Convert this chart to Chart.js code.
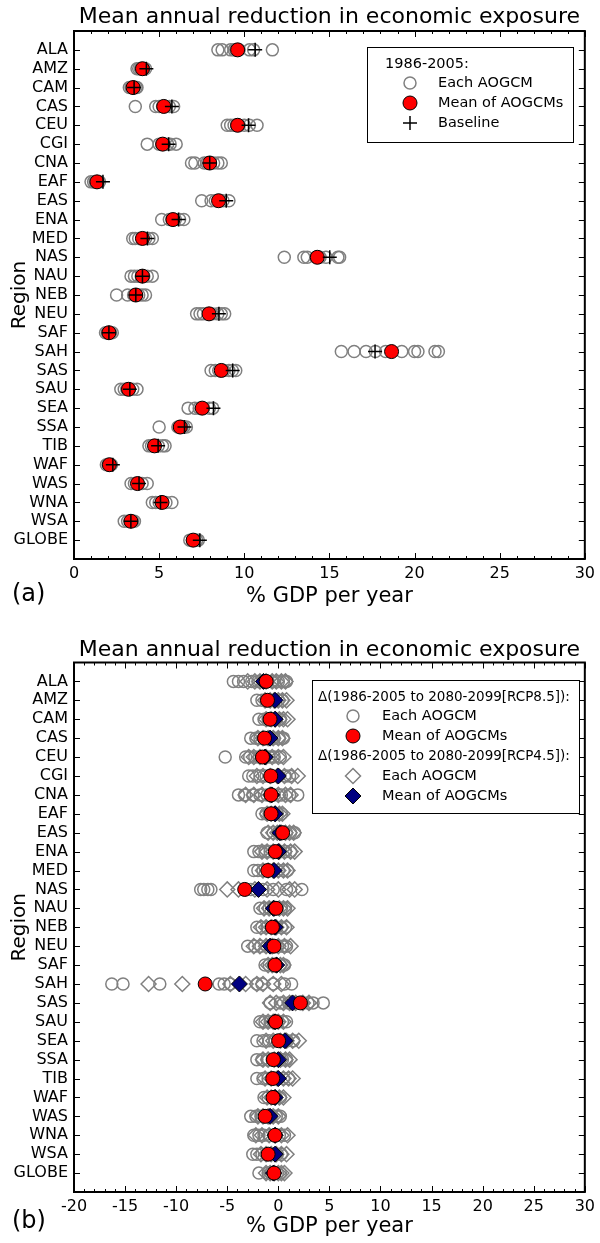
<!DOCTYPE html>
<html>
<head>
<meta charset="utf-8">
<script src="https://cdn.jsdelivr.net/npm/chart.js@4.4.1/dist/chart.umd.min.js"></script>
<style>
  body { margin: 0; background: #fff; }
  canvas { display: block; }
</style>
</head>
<body>
<canvas id="chartA" width="600" height="620"></canvas>
<canvas id="chartB" width="600" height="623"></canvas>
<script>
const regions = ['ALA','AMZ','CAM','CAS','CEU','CGI','CNA','EAF','EAS','ENA','MED','NAS','NAU','NEB','NEU','SAF','SAH','SAS','SAU','SEA','SSA','TIB','WAF','WAS','WNA','WSA','GLOBE'];

// (a) 1986-2005, % GDP per year
const modelsA = [
  [8.45, 8.7, 9.2, 9.4, 9.5, 9.7, 10.3, 10.55, 11.65],
  [3.7, 3.8, 3.9, 4.0, 4.1, 4.2],
  [3.25, 3.35, 3.45, 3.55, 3.65, 3.7],
  [3.6, 4.8, 5.0, 5.2, 5.4, 5.6, 5.85],
  [9.0, 9.2, 9.4, 9.55, 9.7, 10.0, 10.3, 10.75],
  [4.3, 5.0, 5.15, 5.3, 5.5, 5.65, 6.0],
  [6.9, 7.1, 7.65, 7.8, 8.0, 8.2, 8.45, 8.65],
  [1.0, 1.15, 1.25, 1.4, 1.5],
  [7.5, 8.05, 8.3, 8.5, 8.75, 9.1],
  [5.15, 5.6, 5.75, 5.95, 6.2, 6.45],
  [3.45, 3.6, 3.8, 4.0, 4.2, 4.4, 4.6],
  [12.35, 13.5, 13.7, 14.2, 14.45, 14.8, 15.5, 15.6],
  [3.35, 3.55, 3.75, 3.95, 4.1, 4.3, 4.6],
  [2.5, 3.15, 3.5, 3.65, 3.8, 4.0, 4.2],
  [7.2, 7.4, 7.6, 7.9, 8.1, 8.45, 8.65, 8.85],
  [1.85, 1.95, 2.05, 2.15, 2.25],
  [15.7, 16.45, 17.15, 17.7, 18.3, 19.25, 20.0, 20.2, 21.2, 21.4],
  [8.05, 8.3, 8.5, 8.8, 9.1, 9.3, 9.5],
  [2.75, 2.95, 3.1, 3.25, 3.45, 3.7],
  [6.7, 7.1, 7.35, 7.6, 7.95, 8.15],
  [5.0, 6.1, 6.2, 6.35, 6.45, 6.6],
  [4.4, 4.55, 4.7, 4.95, 5.2, 5.35],
  [1.9, 2.0, 2.1, 2.2],
  [3.35, 3.55, 3.75, 4.0, 4.3],
  [4.6, 4.8, 5.0, 5.2, 5.4, 5.75],
  [2.95, 3.15, 3.3, 3.45, 3.55],
  [6.8, 6.95, 7.05, 7.2, 7.3]
];
const meanA = [9.61, 4.02, 3.47, 5.27, 9.61, 5.21, 7.97, 1.35, 8.49, 5.81, 4.02, 14.29, 4.02, 3.63, 7.93, 2.05, 18.65, 8.65, 3.2, 7.53, 6.24, 4.73, 2.08, 3.73, 5.17, 3.34, 7.0];
const baselineA = [10.64, 4.25, 3.53, 5.75, 10.25, 5.56, 7.97, 1.7, 8.94, 6.14, 4.31, 15.02, 4.02, 3.63, 8.51, 2.05, 17.68, 9.32, 3.28, 8.19, 6.49, 4.94, 2.28, 3.82, 5.08, 3.34, 7.39];

// (b) change to 2080-2099
const models85 = [
  [-4.4, -3.9, -3.4, -2.6, -2.0, -1.5, -1.0, -0.5, 0.0, 0.5, 0.8],
  [-2.1, -1.6, -1.2, -0.8, -0.4, 0.0, 0.4],
  [-1.9, -1.4, -1.0, -0.6, -0.2, 0.2],
  [-2.7, -2.2, -1.8, -1.3, -0.9, -0.4, 0.1, 0.5],
  [-5.2, -3.2, -2.8, -2.3, -1.9, -1.4, -0.9, -0.4, 0.2],
  [-2.9, -2.5, -1.8, -1.2, -0.6, 0.0, 0.7, 1.1],
  [-3.9, -3.3, -2.5, -1.8, -1.1, -0.4, 0.3, 1.1, 1.9],
  [-1.6, -1.2, -0.9, -0.5, -0.1, 0.3],
  [-1.1, -0.5, 0.0, 0.4, 0.8, 1.2, 1.6],
  [-2.4, -1.9, -1.3, -0.8, -0.3, 0.2, 0.7, 1.2],
  [-2.4, -2.0, -1.5, -1.0, -0.5, 0.0, 0.5, 0.9],
  [-7.6, -7.3, -6.9, -6.6, -3.2, -2.7, -1.5, -0.5, 0.8, 2.3],
  [-1.8, -1.3, -0.9, -0.5, -0.1, 0.3, 0.7],
  [-2.1, -1.6, -1.1, -0.6, -0.2, 0.3, 0.7],
  [-3.0, -2.3, -1.7, -1.1, -0.6, -0.1, 0.4, 0.8],
  [-1.3, -0.9, -0.5, -0.2, 0.2, 0.6],
  [-16.3, -15.2, -11.6, -5.8, -5.3, -4.7, -2.1, -1.6, -0.5, 0.6, 1.3],
  [-0.8, 0.2, 1.0, 1.8, 2.4, 2.9, 3.4, 4.4],
  [-1.8, -1.3, -0.8, -0.4, 0.0, 0.4, 0.8],
  [-2.1, -1.5, -0.9, -0.3, 0.3, 0.9, 1.5],
  [-2.1, -1.6, -1.1, -0.6, -0.1, 0.4, 0.8],
  [-2.1, -1.5, -1.0, -0.5, 0.0, 0.5, 1.0],
  [-1.4, -1.0, -0.6, -0.2, 0.2],
  [-2.7, -2.2, -1.7, -1.2, -0.7, -0.2, 0.2],
  [-2.4, -1.9, -1.4, -0.9, -0.4, 0.1, 0.6],
  [-2.5, -2.1, -1.6, -1.1, -0.6, -0.1, 0.3],
  [-1.9, -1.0, -0.7, -0.4, -0.1, 0.2]
];
const mean85 = [-1.19, -1.06, -0.81, -1.35, -1.55, -0.74, -0.71, -0.71, 0.42, -0.29, -1.03, -3.29, -0.23, -0.58, -0.42, -0.32, -7.16, 2.16, -0.26, 0.03, -0.48, -0.55, -0.52, -1.29, -0.32, -1.0, -0.42];
const models45 = [
  [-3.0, -2.3, -1.8, -1.2, -0.6, -0.2, 0.3, 0.7],
  [-1.3, -0.8, -0.4, 0.0, 0.4, 0.8],
  [-1.2, -0.7, -0.3, 0.1, 0.5, 0.9],
  [-2.0, -1.5, -1.0, -0.5, 0.0, 0.4],
  [-2.9, -2.4, -1.8, -1.2, -0.6, 0.0, 0.5],
  [-2.1, -1.5, -0.8, -0.1, 0.6, 1.3, 1.9],
  [-3.2, -2.4, -1.6, -0.8, 0.0, 0.7, 1.2],
  [-1.1, -0.7, -0.3, 0.1, 0.4],
  [-1.0, -0.5, -0.1, 0.3, 0.7, 1.1, 1.5],
  [-1.6, -1.1, -0.5, 0.1, 0.6, 1.2, 1.6],
  [-1.5, -1.0, -0.5, 0.0, 0.5, 0.9],
  [-5.0, -3.9, -2.3, -1.1, 0.0, 1.1, 1.6],
  [-1.4, -0.9, -0.4, 0.1, 0.5, 0.9],
  [-1.7, -1.2, -0.7, -0.2, 0.3, 0.8],
  [-2.4, -1.8, -1.2, -0.6, 0.0, 0.6, 1.2],
  [-1.0, -0.6, -0.2, 0.2, 0.5],
  [-12.7, -9.4, -4.7, -3.2, -2.1, -1.5, -0.5, 0.3],
  [-0.8, -0.2, 0.5, 1.1, 1.7, 2.4, 3.0],
  [-1.5, -1.0, -0.5, 0.0, 0.5],
  [-1.2, -0.5, 0.2, 0.8, 1.4, 2.0],
  [-1.5, -1.0, -0.4, 0.2, 0.7, 1.1],
  [-1.3, -0.7, -0.1, 0.5, 1.0, 1.4],
  [-1.1, -0.7, -0.3, 0.1, 0.5],
  [-2.0, -1.5, -1.0, -0.5, 0.0],
  [-2.2, -1.6, -0.9, -0.3, 0.3, 0.9],
  [-1.7, -1.2, -0.7, -0.2, 0.3, 0.8],
  [-1.2, -0.8, -0.4, 0.0, 0.3, 0.6]
];
const mean45 = [-1.45, -0.32, -0.32, -0.81, -1.29, 0.0, -0.65, -0.32, 0.16, 0.0, -0.42, -1.94, -0.48, -0.32, -0.81, -0.16, -3.81, 1.39, -0.32, 0.65, 0.0, 0.0, -0.32, -0.81, -0.32, -0.32, -0.48];

const FONT = 'DejaVu Sans';
const GRAY = '#808080';
const NAVY = '#000080';

const toPoints = lists => lists.flatMap((vals, i) => vals.map(v => ({x: v, y: i})));
const toRow = vals => vals.map((v, i) => ({x: v, y: i}));

const styles = {
  model:  {shape: 'circle',  r: 6,   fill: null,      stroke: GRAY,   lw: 1.5},
  mean:   {shape: 'circle',  r: 7,   fill: '#ff0000', stroke: '#000', lw: 1},
  base:   {shape: 'cross',   r: 7,   fill: null,      stroke: '#000', lw: 1.5},
  model45:{shape: 'diamond', r: 7.5, fill: null,      stroke: GRAY,   lw: 1.5},
  mean45: {shape: 'diamond', r: 8,   fill: NAVY,      stroke: '#000', lw: 1}
};

function dataset(label, points, st, order) {
  return {
    label: label, data: points, order: order,
    pointStyle: st.shape === 'diamond' ? 'rectRot' : st.shape,
    pointRadius: st.r, pointHoverRadius: st.r,
    backgroundColor: st.fill || 'rgba(0,0,0,0)',
    borderColor: st.stroke, borderWidth: st.lw
  };
}

function drawMarker(ctx, st, x, y) {
  ctx.save();
  ctx.beginPath();
  if (st.shape === 'circle') {
    ctx.arc(x, y, st.r, 0, Math.PI * 2);
  } else if (st.shape === 'diamond') {
    ctx.moveTo(x, y - st.r); ctx.lineTo(x + st.r, y);
    ctx.lineTo(x, y + st.r); ctx.lineTo(x - st.r, y); ctx.closePath();
  } else {
    ctx.moveTo(x - st.r, y); ctx.lineTo(x + st.r, y);
    ctx.moveTo(x, y - st.r); ctx.lineTo(x, y + st.r);
  }
  if (st.fill) { ctx.fillStyle = st.fill; ctx.fill(); }
  ctx.strokeStyle = st.stroke; ctx.lineWidth = st.lw; ctx.stroke();
  ctx.restore();
}

// frame with inward ticks, like the matplotlib axes
const frameTicks = {
  id: 'frameTicks',
  afterDatasetsDraw(chart) {
    const {ctx, chartArea: a, scales: {x, y}} = chart;
    ctx.save();
    ctx.strokeStyle = '#000';
    ctx.lineWidth = 1;
    ctx.beginPath();
    for (let v = x.min; v <= x.max; v++) {
      const px = Math.round(x.getPixelForValue(v)) + 0.5;
      const len = v % 5 === 0 ? 6 : 3;
      ctx.moveTo(px, a.bottom); ctx.lineTo(px, a.bottom - len);
      ctx.moveTo(px, a.top); ctx.lineTo(px, a.top + len);
    }
    y.ticks.forEach(t => {
      const py = Math.round(y.getPixelForValue(t.value)) + 0.5;
      ctx.moveTo(a.left, py); ctx.lineTo(a.left + 6, py);
      ctx.moveTo(a.right, py); ctx.lineTo(a.right - 6, py);
    });
    ctx.stroke();
    ctx.lineWidth = 2;
    ctx.strokeRect(a.left, a.top, a.right - a.left, a.bottom - a.top);
    ctx.restore();
  }
};

function legendBox(box, rows, letter) {
  return {
    id: 'legendBox',
    afterDraw(chart) {
      const ctx = chart.ctx;
      ctx.save();
      ctx.fillStyle = '#fff';
      ctx.fillRect(box.x, box.y, box.w, box.h);
      ctx.strokeStyle = '#000';
      ctx.lineWidth = 1;
      ctx.strokeRect(box.x + 0.5, box.y + 0.5, box.w, box.h);
      ctx.textBaseline = 'middle';
      ctx.fillStyle = '#000';
      rows.forEach(r => {
        if (r.style) {
          drawMarker(ctx, styles[r.style], box.markerX, r.y);
          ctx.fillStyle = '#000';
          ctx.font = '14.5px "' + FONT + '"';
          ctx.fillText(r.text, box.textX, r.y);
        } else {
          ctx.font = box.headFont + 'px "' + FONT + '"';
          ctx.fillText(r.text, box.headX, r.y);
        }
      });
      ctx.font = '24px "' + FONT + '"';
      ctx.fillText(letter.text, letter.x, letter.y);
      ctx.restore();
    }
  };
}

function makeOptions(xmin, xmax, titlePad, xHeight, xTitleBottom) {
  return {
    responsive: false,
    animation: false,
    devicePixelRatio: 1,
    layout: {padding: {left: 0, right: 8, top: 0, bottom: 0}},
    plugins: {
      legend: {display: false},
      tooltip: {enabled: false},
      title: {
        display: true, fullSize: false,
        text: 'Mean annual reduction in economic exposure',
        color: '#000',
        font: {family: FONT, size: 22, weight: 'normal', lineHeight: 1},
        padding: titlePad
      }
    },
    scales: {
      x: {
        type: 'linear', position: 'bottom', min: xmin, max: xmax,
        grid: {display: false, drawTicks: false},
        border: {display: false},
        ticks: {stepSize: 5, autoSkip: false, maxRotation: 0, padding: 5, color: '#000',
                font: {family: FONT, size: 16}},
        title: {display: true, text: '% GDP per year', color: '#000',
                font: {family: FONT, size: 21, lineHeight: 1},
                padding: {top: 0, bottom: xTitleBottom}},
        afterFit: s => { s.height = xHeight; }
      },
      y: {
        type: 'linear', reverse: true, min: -1, max: 27,
        grid: {display: false, drawTicks: false},
        border: {display: false},
        afterBuildTicks: s => { s.ticks = regions.map((r, i) => ({value: i})); },
        ticks: {autoSkip: false, padding: 6, color: '#000',
                font: {family: FONT, size: 16},
                callback: v => regions[v]},
        title: {display: true, text: 'Region', color: '#000',
                font: {family: FONT, size: 20, lineHeight: 1},
                padding: {top: 10, bottom: 0}},
        afterFit: s => { s.width = 74; }
      }
    }
  };
}

new Chart(document.getElementById('chartA').getContext('2d'), {
  type: 'scatter',
  data: {
    datasets: [
      dataset('Each AOGCM', toPoints(modelsA), styles.model, 3),
      dataset('Mean of AOGCMs', toRow(meanA), styles.mean, 2),
      dataset('Baseline', toRow(baselineA), styles.base, 1)
    ]
  },
  options: makeOptions(0, 30, {top: 6, bottom: 3}, 61, 13),
  plugins: [frameTicks, legendBox(
    {x: 367, y: 47, w: 206, h: 95, headX: 385, markerX: 410, textX: 438, headFont: 14.5},
    [
      {text: '1986-2005:', y: 64},
      {text: 'Each AOGCM', style: 'model', y: 83},
      {text: 'Mean of AOGCMs', style: 'mean', y: 103},
      {text: 'Baseline', style: 'base', y: 123}
    ],
    {text: '(a)', x: 12, y: 595}
  )]
});

new Chart(document.getElementById('chartB').getContext('2d'), {
  type: 'scatter',
  data: {
    datasets: [
      dataset('Each AOGCM (RCP8.5)', toPoints(models85), styles.model, 4),
      dataset('Mean of AOGCMs (RCP8.5)', toRow(mean85), styles.mean, 1),
      dataset('Each AOGCM (RCP4.5)', toPoints(models45), styles.model45, 3),
      dataset('Mean of AOGCMs (RCP4.5)', toRow(mean45), styles.mean45, 2)
    ]
  },
  options: makeOptions(-20, 30, {top: 19, bottom: 1.5}, 51, 6),
  plugins: [frameTicks, legendBox(
    {x: 312, y: 60, w: 267, h: 133, headX: 318, markerX: 353, textX: 382, headFont: 13.5},
    [
      {text: '\u0394(1986-2005 to 2080-2099[RCP8.5]):', y: 77},
      {text: 'Each AOGCM', style: 'model', y: 96},
      {text: 'Mean of AOGCMs', style: 'mean', y: 116},
      {text: '\u0394(1986-2005 to 2080-2099[RCP4.5]):', y: 136},
      {text: 'Each AOGCM', style: 'model45', y: 156},
      {text: 'Mean of AOGCMs', style: 'mean45', y: 176}
    ],
    {text: '(b)', x: 12, y: 602}
  )]
});
</script>
</body>
</html>
